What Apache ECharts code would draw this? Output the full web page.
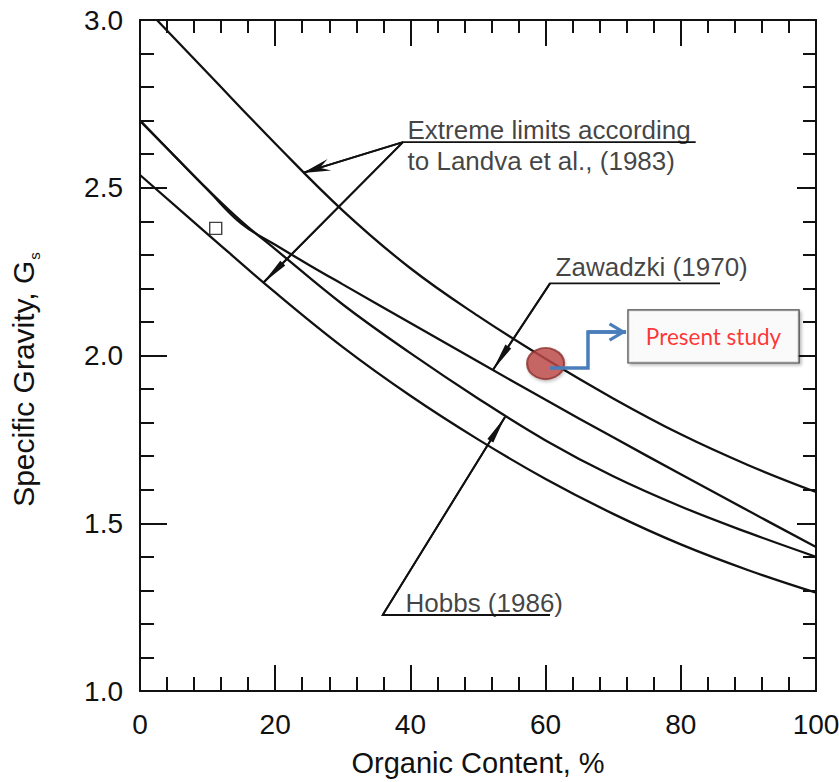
<!DOCTYPE html>
<html>
<head>
<meta charset="utf-8">
<script src="https://cdn.jsdelivr.net/npm/echarts@6/dist/echarts.min.js"></script>
<style>html,body{margin:0;padding:0;background:#fff}#c{width:839px;height:782px}</style>
</head>
<body>
<div id="c"></div>
<script>
// ---------- data ----------
const landvaUpperX = [2.5, 10, 20, 30, 40, 50, 60, 70, 80, 90, 100];
const landvaUpperY = [3.0, 2.842, 2.632, 2.432, 2.26, 2.118, 1.99, 1.872, 1.765, 1.673, 1.593];

const zawadzkiX = [0, 5, 10, 15, 20, 25, 30, 40, 50, 60, 70, 80, 90, 100];
const zawadzkiY = [2.70, 2.597, 2.494, 2.393, 2.33, 2.27, 2.212, 2.097, 1.982, 1.868, 1.756, 1.646, 1.537, 1.429];

const hobbsX = [0, 5, 10, 15, 20, 30, 40, 50, 60, 70, 80, 90, 100];
const hobbsY = [2.70, 2.597, 2.495, 2.40, 2.317, 2.152, 2.007, 1.872, 1.747, 1.64, 1.55, 1.472, 1.40];

const landvaLowerX = [0, 10, 20, 30, 40, 50, 60, 70, 80, 90, 100];
const landvaLowerY = [2.538, 2.362, 2.188, 2.025, 1.88, 1.75, 1.632, 1.528, 1.437, 1.36, 1.293];

const squarePoint = [11.2, 2.379];
const presentStudy = [60.0, 1.976];

// annotation texts (left anchor, data units)
const annotationLabels = [
  { name: 'Extreme limits according', at: [39.5, 2.672] },
  { name: 'to Landva et al., (1983)', at: [39.5, 2.581] },
  { name: 'Zawadzki (1970)', at: [61.4, 2.264] },
  { name: 'Hobbs (1986)', at: [39.2, 1.261] }
];
// leader polylines (data units): underline + leader to curve
const leaderPaths = [
  [[82.2, 2.636], [38.9, 2.636], [24.2, 2.545]],
  [[38.9, 2.636], [18.2, 2.216]],
  [[85.8, 2.215], [60.65, 2.215], [52.2, 1.957]],
  [[60.65, 1.2265], [35.9, 1.2265], [54.0, 1.817]]
];
const barbedArrows = [[[38.9, 2.636], [24.2, 2.545]]];
const narrowArrows = [
  [[38.9, 2.636], [18.2, 2.216]],
  [[60.65, 2.215], [52.2, 1.957]],
  [[35.9, 1.2265], [54.0, 1.817]]
];
const bluePath = [[60.65, 1.963], [66.27, 1.963], [66.27, 2.070], [71.9, 2.070]];
const blueArrow = [[[66.27, 2.070], [71.9, 2.070]]];
const studyBox = { name: 'Present study', at: [84.84, 2.057] };

const xTickLabels = ['0', '20', '40', '60', '80', '100'];
const yTickLabels = ['1.0', '1.5', '2.0', '2.5', '3.0'];

// ---------- chart ----------
const FONT = '"Liberation Sans", Arial, Helvetica, sans-serif';
const INK = '#111111';
const zip = (xs, ys) => xs.map((x, i) => [x, ys[i]]);

function axisCommon(showLabel, major, minor) {
  return {
    axisLine: { show: true, onZero: false, lineStyle: { color: INK, width: 2 } },
    axisTick: { show: true, inside: true, length: major, lineStyle: { color: INK, width: 2 } },
    minorTick: { show: true, splitNumber: 5, length: minor, lineStyle: { color: INK, width: 2 } },
    splitLine: { show: false },
    minorSplitLine: { show: false },
    axisLabel: { show: showLabel }
  };
}

const chart = echarts.init(document.getElementById('c'), null, { renderer: 'svg' });

const curveStyle = { color: INK, width: 2.3 };
const curve = (name, data) => ({
  name, type: 'line', data, smooth: 0.4, showSymbol: false, symbol: 'none',
  lineStyle: curveStyle, itemStyle: { color: INK }, z: 2, silent: true
});

const barbPath = 'path://M6,0 L6,0 M6,26 L12,54 L6,44 L0,54 Z';
const narrowPath = 'path://M3.5,0 L3.5,0 M3.5,28 L7,56 L0,56 Z';
const chevronPath = 'path://M9.5,0 L9.5,0 M9.5,17 L19,33 L16.2,34.6 L9.5,23.2 L2.8,34.6 L0,33 Z';

chart.setOption({
  animation: false,
  backgroundColor: '#fff',
  grid: { left: 140, right: 23, top: 20, bottom: 91, containLabel: false, outerBoundsMode: 'none' },
  xAxis: [
    Object.assign(axisCommon(true, 26, 14), {
      type: 'value', min: 0, max: 100, interval: 20, position: 'bottom',
      axisLabel: { show: true, margin: 19, fontSize: 28, fontFamily: FONT, color: INK,
        formatter: (v) => xTickLabels[Math.round(v / 20)] },
      name: 'Organic Content, %', nameLocation: 'middle', nameGap: 57,
      nameTextStyle: { fontSize: 29, fontFamily: FONT, color: INK }
    }),
    Object.assign(axisCommon(false, 26, 13), {
      type: 'value', min: 0, max: 100, interval: 20, position: 'top'
    })
  ],
  yAxis: [
    Object.assign(axisCommon(true, 27, 14), {
      type: 'value', min: 1, max: 3, interval: 0.5, position: 'left',
      axisLabel: { show: true, margin: 17, fontSize: 28, fontFamily: FONT, color: INK,
        formatter: (v) => yTickLabels[Math.round((v - 1) / 0.5)] },
      name: 'Specific Gravity, G{s|s}', nameLocation: 'middle', nameGap: 98,
      nameTextStyle: {
        fontSize: 30, fontFamily: FONT, color: INK, padding: [0, 48, 0, 0],
        rich: { s: { fontSize: 15, fontFamily: FONT, color: INK, verticalAlign: 'top', padding: [22, 0, 0, 1] } }
      }
    }),
    Object.assign(axisCommon(false, 19, 13), {
      type: 'value', min: 1, max: 3, interval: 0.5, position: 'right'
    })
  ],
  series: [
    curve('Landva upper limit', zip(landvaUpperX, landvaUpperY)),
    curve('Zawadzki (1970)', zip(zawadzkiX, zawadzkiY)),
    curve('Hobbs (1986)', zip(hobbsX, hobbsY)),
    curve('Landva lower limit', zip(landvaLowerX, landvaLowerY)),
    {
      name: 'square', type: 'scatter', data: [squarePoint], symbol: 'rect', symbolSize: 12,
      itemStyle: { color: '#fff', borderColor: INK, borderWidth: 1.4 }, z: 4, silent: true
    },
    {
      name: 'leaders', type: 'lines', coordinateSystem: 'cartesian2d', polyline: true,
      data: leaderPaths.map((p) => ({ coords: p })),
      lineStyle: { color: INK, width: 1.9, opacity: 1 }, z: 3, silent: true
    },
    {
      name: 'barbed arrow', type: 'lines', coordinateSystem: 'cartesian2d',
      data: barbedArrows.map((p) => ({ coords: p })),
      symbol: ['none', barbPath], symbolSize: [[12, 54], [12, 54]],
      lineStyle: { color: INK, width: 1.9, opacity: 1 }, z: 3, silent: true
    },
    {
      name: 'narrow arrows', type: 'lines', coordinateSystem: 'cartesian2d',
      data: narrowArrows.map((p) => ({ coords: p })),
      symbol: ['none', narrowPath], symbolSize: [[7, 56], [7, 56]],
      lineStyle: { color: INK, width: 1.9, opacity: 1 }, z: 3, silent: true
    },
    {
      name: 'labels', type: 'scatter', symbolSize: 1,
      data: annotationLabels.map((a) => ({ name: a.name, value: a.at })),
      itemStyle: { color: 'rgba(0,0,0,0)' },
      label: { show: true, position: 'right', distance: 0, formatter: '{b}',
        fontSize: 26, fontFamily: FONT, color: INK },
      z: 4, silent: true
    },
    {
      name: 'Present study point', type: 'scatter', data: [presentStudy], symbol: 'circle',
      symbolSize: [37, 31],
      itemStyle: { color: '#bf4a47', borderColor: '#8c3230', borderWidth: 2,
        shadowColor: 'rgba(0,0,0,0.25)', shadowBlur: 3, shadowOffsetX: 1, shadowOffsetY: 2 },
      z: 5, silent: true
    },
    {
      name: 'blue path', type: 'lines', coordinateSystem: 'cartesian2d', polyline: true,
      data: [{ coords: bluePath }],
      lineStyle: { color: '#4a7ebb', width: 3.5, opacity: 1, join: 'miter' }, z: 6, silent: true
    },
    {
      name: 'blue arrow', type: 'lines', coordinateSystem: 'cartesian2d',
      data: blueArrow.map((p) => ({ coords: p })),
      symbol: ['none', chevronPath], symbolSize: [[19, 34.6], [19, 34.6]],
      lineStyle: { color: '#4a7ebb', width: 3.5, opacity: 1 }, z: 6, silent: true
    },
    {
      name: 'study box', type: 'scatter', symbolSize: 1,
      data: [{ name: studyBox.name, value: studyBox.at }],
      itemStyle: { color: 'rgba(0,0,0,0)' },
      label: { show: true, position: 'inside', formatter: '{b}',
        fontSize: 22.5, fontFamily: 'Lato, "Open Sans", sans-serif', color: '#ff0000',
        backgroundColor: '#fff', borderColor: '#222', borderWidth: 1.2,
        width: 170, height: 52, lineHeight: 52, align: 'center', verticalAlign: 'middle',
        shadowColor: 'rgba(0,0,0,0.3)', shadowBlur: 3, shadowOffsetX: 2, shadowOffsetY: 2 },
      z: 6, silent: true
    }
  ]
});
</script>
</body>
</html>
